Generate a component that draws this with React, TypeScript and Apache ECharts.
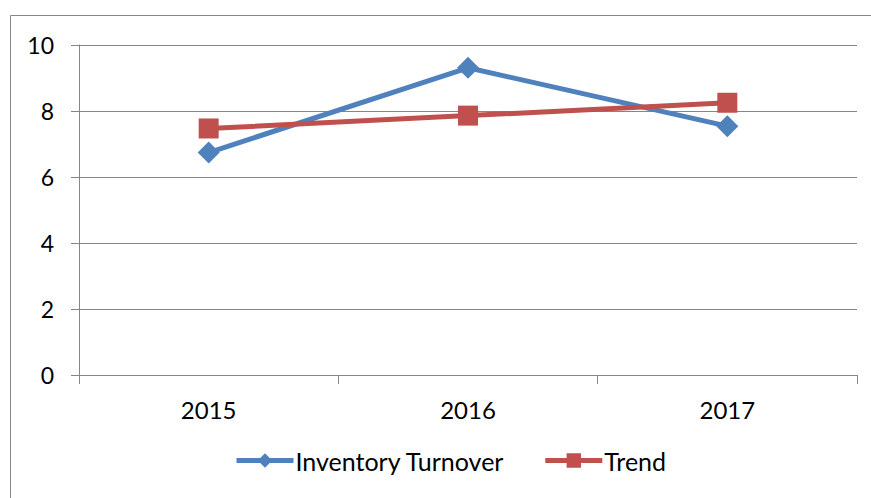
import React, { useEffect, useRef } from "react";
import * as echarts from "echarts";

const categories = ["2015", "2016", "2017"];
const inventoryTurnover = [6.74, 9.31, 7.54];
const trend = [7.47, 7.86, 8.25];
const seriesNames = ["Inventory Turnover", "Trend"];

const FONT = "Lato";
const GRAY = "#868686";

export default function App() {
  const ref = useRef<HTMLDivElement>(null);
  useEffect(() => {
    if (!ref.current) return;
    const chart = echarts.init(ref.current, null, { renderer: "svg" });
    chart.setOption({
      animation: false,
      backgroundColor: "#ffffff",
      textStyle: { fontFamily: FONT },
      graphic: [
        {
          type: "rect",
          shape: { x: 10.5, y: 15.5, width: 1000, height: 1000 },
          style: { fill: "none", stroke: GRAY, lineWidth: 1 },
          silent: true,
        },
      ],
      grid: { left: 79, right: 14, top: 45, bottom: 123, containLabel: false },
      legend: {
        bottom: 20,
        left: 229,
        itemWidth: 57,
        itemHeight: 18,
        itemGap: 38,
        lineStyle: { width: 5 },
        textStyle: { fontFamily: FONT, fontSize: 25, color: "#000", padding: [0, 0, 0, -3] },
        data: seriesNames,
      },
      xAxis: {
        type: "category",
        data: categories,
        boundaryGap: true,
        axisLine: { lineStyle: { color: GRAY, width: 1 } },
        axisTick: { show: true, length: 9, lineStyle: { color: GRAY } },
        axisLabel: { fontFamily: FONT, fontSize: 24, color: "#000", margin: 22 },
      },
      yAxis: {
        type: "value",
        min: 0,
        max: 10,
        interval: 2,
        axisLine: { show: true, lineStyle: { color: GRAY, width: 1 } },
        axisTick: { show: true, length: 8, lineStyle: { color: GRAY } },
        splitLine: { show: true, lineStyle: { color: GRAY, width: 1 } },
        axisLabel: { fontFamily: FONT, fontSize: 23, color: "#000", margin: 25 },
      },
      series: [
        {
          name: seriesNames[0],
          type: "line",
          data: inventoryTurnover,
          symbol: "diamond",
          symbolSize: 22,
          lineStyle: { color: "#4F81BD", width: 5 },
          itemStyle: { color: "#4F81BD" },
          z: 2,
        },
        {
          name: seriesNames[1],
          type: "line",
          data: trend,
          symbol: "rect",
          symbolSize: 20,
          lineStyle: { color: "#C0504D", width: 5 },
          itemStyle: { color: "#C0504D" },
          z: 3,
        },
      ],
    });
    return () => chart.dispose();
  }, []);
  return (
    <div
      ref={ref}
      style={{ position: "absolute", left: 0, top: 0, width: 871, height: 498 }}
    />
  );
}
